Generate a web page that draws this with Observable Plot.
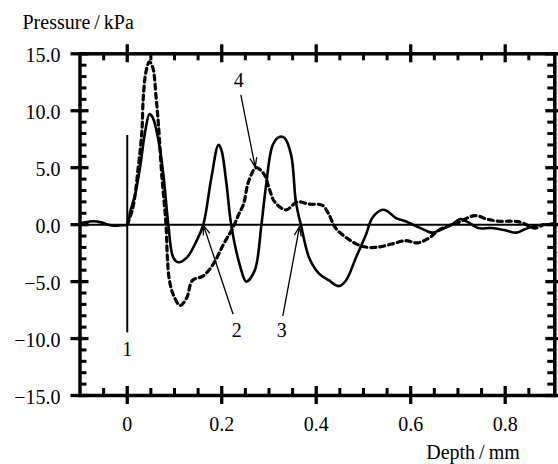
<!DOCTYPE html>
<html><head><meta charset="utf-8">
<script src="https://cdn.jsdelivr.net/npm/d3@7"></script>
<script src="https://cdn.jsdelivr.net/npm/@observablehq/plot@0.6"></script>
<style>
body{margin:0;background:#fff}
#chart svg, #chart svg text, #chart svg g { font-family: "Liberation Serif", "DejaVu Serif", "Times New Roman", Times, serif !important; }
</style>
</head><body><div id="chart"></div>
<script>
// ---- data ----
const solidDepth = [-0.1,-0.09,-0.072,-0.055,-0.04,-0.029,-0.012,0.0,0.006,0.017,0.027,0.038,0.047,0.054,0.066,0.0765,0.087,0.0975,0.108,0.126,0.147,0.161,0.178,0.193,0.199,0.21,0.22,0.238,0.252,0.27,0.284,0.294,0.308,0.322,0.333,0.347,0.357,0.368,0.385,0.406,0.427,0.448,0.463,0.484,0.505,0.519,0.54,0.55,0.568,0.589,0.61,0.631,0.645,0.666,0.687,0.705,0.722,0.743,0.771,0.8,0.824,0.842,0.863,0.884,0.9];
const solidPressure = [0.1,0.2,0.3,0.2,0.0,-0.1,-0.05,0.0,1.1,2.7,5.0,8.2,9.7,9.4,7.4,4.4,0.0,-2.9,-3.3,-2.9,-1.4,0.0,4.1,7.0,6.6,3.6,0.0,-3.5,-5.0,-4.0,0.0,3.5,7.0,7.7,7.6,6.1,2.0,-0.1,-2.9,-4.3,-4.9,-5.4,-4.9,-2.9,-0.9,0.6,1.3,1.2,0.6,0.3,-0.1,-0.5,-0.7,-0.4,0.0,0.5,0.2,-0.3,-0.3,-0.5,-0.7,-0.4,-0.1,0.0,0.1];
const dashedDepth = [0.0,0.012,0.024,0.031,0.034,0.04,0.047,0.054,0.061,0.066,0.073,0.082,0.085,0.089,0.097,0.112,0.126,0.138,0.161,0.183,0.204,0.222,0.236,0.246,0.257,0.273,0.29,0.301,0.312,0.336,0.36,0.385,0.413,0.427,0.441,0.469,0.497,0.525,0.56,0.589,0.614,0.638,0.659,0.68,0.701,0.736,0.76,0.785,0.813,0.834,0.863,0.88];
const dashedPressure = [0.0,1.5,5.3,8.2,11.2,13.5,14.3,13.8,11.2,8.8,4.4,0.0,-2.9,-4.8,-6.1,-7.1,-6.4,-4.9,-4.5,-3.4,-1.7,-0.4,0.9,1.8,3.8,5.0,4.4,3.1,2.0,1.3,2.0,1.8,1.7,0.9,-0.3,-1.3,-1.9,-2.0,-1.7,-1.4,-1.6,-1.2,-0.5,-0.1,0.2,0.8,0.5,0.3,0.3,0.2,-0.3,0.0];

const xMajorTicks = [0, 0.2, 0.4, 0.6, 0.8];
const xTickLabels = ["0", "0.2", "0.4", "0.6", "0.8"];
const xMinorTicks = [-0.05,0.05,0.1,0.15,0.25,0.3,0.35,0.45,0.5,0.55,0.65,0.7,0.75,0.85];
const yMajorTicks = [15, 10, 5, 0, -5, -10, -15];
const yTickLabels = ["15.0", "10.0", "5.0", "0.0", "\u22125.0", "\u221210.0", "\u221215.0"];
const yMinorTicks = [14,13,12,11,9,8,7,6,4,3,2,1,-1,-2,-3,-4,-6,-7,-8,-9,-11,-12,-13,-14];

const annotLabels = ["1", "2", "3", "4"];
const annotX = [0, 0.232, 0.327, 0.236];
const annotY = [-11.0, -9.3, -9.3, 12.65];

const arrowFromX = [0.2237, 0.3295, 0.2406];
const arrowFromY = [-7.82, -7.97, 11.34];
const arrowToX = [0.1615, 0.3647, 0.2709];
const arrowToY = [-0.07, -0.16, 5.05];

const markerX = [0];
const markerTop = [7.83];
const markerBottom = [-9.5];

const yTitle = "Pressure\u2009/\u2009kPa";
const xTitle = "Depth\u2009/\u2009mm";

// ---- layout ----
const W = 558, H = 464;
const mL = 79.5, mR = 3.7, mT = 53.3, mB = 69;
const plotW = W - mL - mR, plotH = H - mT - mB;
const minorLen = 7, majorHalf = 9;

const solid = solidDepth.map((d, i) => ({x: d, y: solidPressure[i]}));
const dashed = dashedDepth.map((d, i) => ({x: d, y: dashedPressure[i]}));
const annots = annotLabels.map((t, i) => ({t, x: annotX[i], y: annotY[i]}));
const arrows = arrowFromX.map((d, i) => ({x1: d, y1: arrowFromY[i], x2: arrowToX[i], y2: arrowToY[i]}));
const xLab = xMajorTicks.map((v, i) => ({v, t: xTickLabels[i]}));
const yLab = yMajorTicks.map((v, i) => ({v, t: yTickLabels[i]}));
const marker = markerX.map((x, i) => ({x, y1: markerTop[i], y2: markerBottom[i]}));

const font = "Liberation Serif";
const txt = {fontSize: 20, fill: "black", fontFamily: font};

const chart = Plot.plot({
  width: W, height: H,
  marginLeft: mL, marginRight: mR, marginTop: mT, marginBottom: mB,
  x: {domain: [-0.1, 0.905], axis: null},
  y: {domain: [-15, 15], axis: null},
  style: {background: "white", color: "black", overflow: "visible"},
  marks: [
    Plot.ruleY([0], {stroke: "black", strokeWidth: 2}),
    Plot.ruleX(marker, {x: "x", y1: "y1", y2: "y2", stroke: "black", strokeWidth: 2}),
    Plot.line(dashed, {x: "x", y: "y", stroke: "black", strokeWidth: 3.2, strokeDasharray: "5,4", curve: "catmull-rom"}),
    Plot.line(solid, {x: "x", y: "y", stroke: "black", strokeWidth: 2.6, curve: "catmull-rom"}),
    Plot.arrow(arrows, {x1: "x1", y1: "y1", x2: "x2", y2: "y2", stroke: "black", strokeWidth: 1.3, headLength: 11, headAngle: 40}),
    Plot.frame({stroke: "black", strokeWidth: 3.5}),
    // minor ticks (inward)
    Plot.tickX(xMinorTicks, {x: d => d, insetTop: plotH - minorLen, stroke: "black", strokeWidth: 3}),
    Plot.tickX(xMinorTicks, {x: d => d, insetBottom: plotH - minorLen, stroke: "black", strokeWidth: 3}),
    Plot.tickY(yMinorTicks, {y: d => d, insetRight: plotW - minorLen, stroke: "black", strokeWidth: 3}),
    Plot.tickY(yMinorTicks, {y: d => d, insetLeft: plotW - minorLen, stroke: "black", strokeWidth: 3}),
    // major ticks (crossing)
    Plot.tickX(xMajorTicks, {x: d => d, insetTop: plotH - majorHalf, insetBottom: -majorHalf, stroke: "black", strokeWidth: 3.3}),
    Plot.tickX(xMajorTicks, {x: d => d, insetBottom: plotH - majorHalf, insetTop: -majorHalf, stroke: "black", strokeWidth: 3.3}),
    Plot.tickY(yMajorTicks, {y: d => d, insetRight: plotW - majorHalf, insetLeft: -majorHalf, stroke: "black", strokeWidth: 3.3}),
    Plot.tickY(yMajorTicks, {y: d => d, insetLeft: plotW - majorHalf, insetRight: -majorHalf, stroke: "black", strokeWidth: 3.3}),
    // tick labels
    Plot.text(yLab, {y: "v", text: "t", frameAnchor: "left", textAnchor: "end", dx: -19.5, dy: 2, ...txt}),
    Plot.text(xLab, {x: "v", text: "t", frameAnchor: "bottom", lineAnchor: "middle", dy: 29.5, ...txt}),
    // annotation labels
    Plot.text(annots, {x: "x", y: "y", text: "t", ...txt}),
    // axis titles
    Plot.text([yTitle], {text: d => d, frameAnchor: "top-left", textAnchor: "start", lineAnchor: "bottom", dx: 22 - mL, dy: 28 - mT, ...txt}),
    Plot.text([xTitle], {text: d => d, frameAnchor: "bottom-right", textAnchor: "end", lineAnchor: "bottom", dx: -35, dy: 63, ...txt})
  ]
});
document.getElementById("chart").appendChild(chart);
</script>
</body></html>
